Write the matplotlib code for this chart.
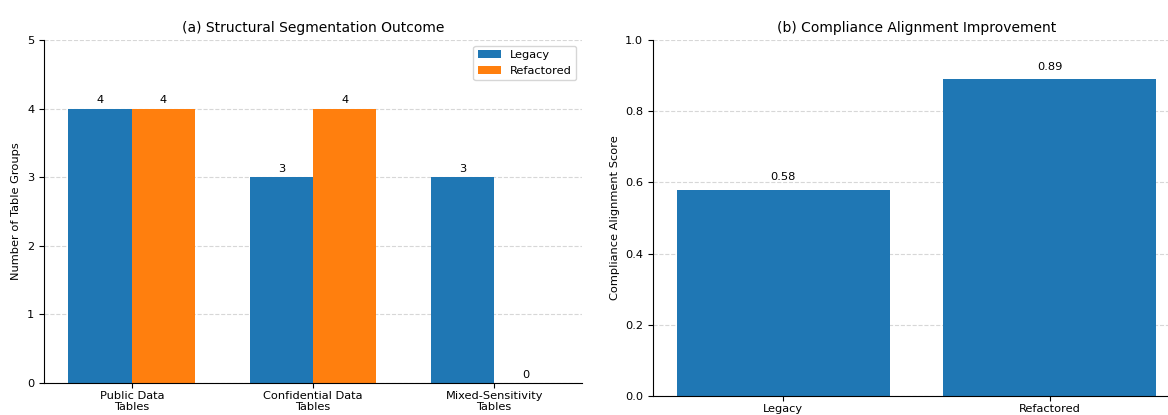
import numpy as np
import matplotlib
matplotlib.use("Agg")
import matplotlib.pyplot as plt

categories = ["Public Data\nTables", "Confidential Data\nTables", "Mixed-Sensitivity\nTables"]
legacy_counts = [4, 3, 3]
refactored_counts = [4, 4, 0]
series_names = ["Legacy", "Refactored"]
score_labels = ["Legacy", "Refactored"]
scores = [0.58, 0.89]

W, H = 1168, 415
fig = plt.figure(figsize=(W / 100, H / 100), dpi=100)

def rect(x0, y0, x1, y1):
    return [x0 / W, 1 - y1 / H, (x1 - x0) / W, (y1 - y0) / H]

ax1 = fig.add_axes(rect(44, 40, 582, 383))
ax2 = fig.add_axes(rect(653, 40, 1180, 396))

blue = "#1f77b4"
orange = "#ff7f0e"
fs = 8.2

x = np.arange(len(categories))
w = 0.35
b1 = ax1.bar(x - w / 2, legacy_counts, w, color=blue, label=series_names[0], zorder=2)
b2 = ax1.bar(x + w / 2, refactored_counts, w, color=orange, label=series_names[1], zorder=2)
for bars in (b1, b2):
    for r in bars:
        ax1.text(r.get_x() + r.get_width() / 2, r.get_height() + 0.05, f"{int(r.get_height())}",
                 ha="center", va="bottom", fontsize=fs)
ax1.set_xticks(x)
ax1.set_xticklabels(categories, fontsize=fs, linespacing=1.05)
ax1.set_ylim(0, 5)
ax1.set_yticks(range(6))
ax1.tick_params(axis="y", labelsize=fs)
ax1.tick_params(axis="x", pad=2.5)
ax1.set_ylabel("Number of Table Groups", fontsize=fs)
ax1.set_title("(a) Structural Segmentation Outcome", fontsize=10)
ax1.legend(loc="upper right", fontsize=fs)

xs = np.arange(len(score_labels))
b3 = ax2.bar(xs, scores, 0.8, color=blue, zorder=2)
for r in b3:
    ax2.text(r.get_x() + r.get_width() / 2, r.get_height() + 0.02, f"{r.get_height():.2f}",
             ha="center", va="bottom", fontsize=fs)
ax2.set_xticks(xs)
ax2.set_xticklabels(score_labels, fontsize=fs)
ax2.set_ylim(0, 1.0)
ax2.tick_params(axis="y", labelsize=fs)
ax2.tick_params(axis="x", pad=2.5)
ax2.set_ylabel("Compliance Alignment Score", fontsize=fs)
ax2.set_title("(b) Compliance Alignment Improvement", fontsize=10)

for ax in (ax1, ax2):
    ax.spines["top"].set_visible(False)
    ax.spines["right"].set_visible(False)
    ax.grid(axis="y", linestyle="--", alpha=0.5, zorder=0)
    ax.set_axisbelow(True)

fig.savefig("out.png", dpi=100)
